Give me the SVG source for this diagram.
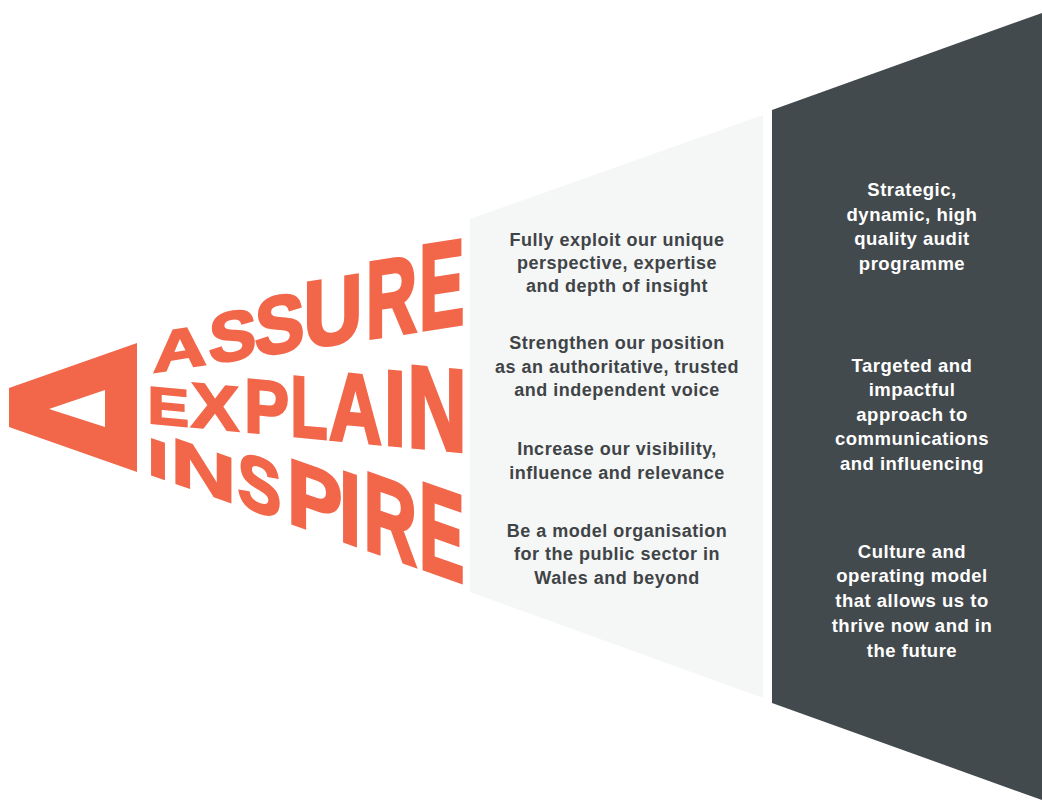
<svg xmlns="http://www.w3.org/2000/svg" width="1042" height="801" viewBox="0 0 1042 801">
<style>
.w{font-family:"Liberation Sans",Arial,sans-serif;font-weight:bold;font-size:100px;text-anchor:middle;fill:#f26649;stroke:#f26649;stroke-width:3.5px;stroke-linejoin:miter}
.m{font-family:"Liberation Sans",Arial,sans-serif;font-weight:bold;font-size:18px;letter-spacing:0.5px;text-anchor:middle;fill:#3f4447}
.r{font-family:"Liberation Sans",Arial,sans-serif;font-weight:bold;font-size:18.5px;letter-spacing:0.5px;text-anchor:middle;fill:#ffffff}
</style>
<rect width="1042" height="801" fill="#ffffff"/>
<g id="panel-light">
<polygon points="470,219 763,115 763,698 470,592" fill="#f5f6f6"/>
<text class="m" x="617" y="246">Fully exploit our unique</text>
<text class="m" x="617" y="269">perspective, expertise</text>
<text class="m" x="617" y="292">and depth of insight</text>
<text class="m" x="617" y="349">Strengthen our position</text>
<text class="m" x="617" y="372.5">as an authoritative, trusted</text>
<text class="m" x="617" y="396">and independent voice</text>
<text class="m" x="617" y="455">Increase our visibility,</text>
<text class="m" x="617" y="479">influence and relevance</text>
<text class="m" x="617" y="536.5">Be a model organisation</text>
<text class="m" x="617" y="560">for the public sector in</text>
<text class="m" x="617" y="584">Wales and beyond</text>
</g>
<g id="panel-dark">
<polygon points="772,110 1042,13 1042,800 772,703" fill="#434a4d"/>
<text class="r" x="912" y="196">Strategic,</text>
<text class="r" x="912" y="220.5">dynamic, high</text>
<text class="r" x="912" y="245">quality audit</text>
<text class="r" x="912" y="269.5">programme</text>
<text class="r" x="912" y="371.5">Targeted and</text>
<text class="r" x="912" y="396">impactful</text>
<text class="r" x="912" y="420.5">approach to</text>
<text class="r" x="912" y="445">communications</text>
<text class="r" x="912" y="469.5">and influencing</text>
<text class="r" x="912" y="557.5">Culture and</text>
<text class="r" x="912" y="582">operating model</text>
<text class="r" x="912" y="607">that allows us to</text>
<text class="r" x="912" y="631.5">thrive now and in</text>
<text class="r" x="912" y="656.5">the future</text>
</g>
<g id="delta">
<path d="M9,388 L137,343 L137,472 L9,427 Z M49,409 L105,427 L105,390 Z" fill="#f26649" fill-rule="evenodd"/>
</g>
<g id="word-assure">
<text class="w" transform="matrix(0.745 -0.1153 0 0.5663 180 368.41)">A</text>
<text class="w" transform="matrix(0.7137 -0.1104 0 0.696 232.5 359.98)">S</text>
<text class="w" transform="matrix(0.7458 -0.1152 0 0.8113 279.5 352.48)">S</text>
<text class="w" transform="matrix(0.8157 -0.1264 0 0.9439 333 343.95)">U</text>
<text class="w" x="-3" transform="matrix(0.7053 -0.109 0 1.0926 393.5 334.39)">R</text>
<text class="w" x="-1.3" transform="matrix(0.674 -0.1043 0 1.2132 442.5 326.58)">E</text>
</g>
<g id="word-explain">
<text class="w" x="-1.3" transform="matrix(0.6223 0.0585 0 0.522 169 424.69)">E</text>
<text class="w" transform="matrix(0.7125 0.067 0 0.6316 215 428.8)">X</text>
<text class="w" x="-1.4" transform="matrix(0.6702 0.063 0 0.757 267.5 433.48)">P</text>
<text class="w" x="-2.3" transform="matrix(0.6065 0.0571 0 0.859 310.5 437.4)">L</text>
<text class="w" transform="matrix(0.7319 0.0688 0 0.9667 355.5 441.41)">A</text>
<text class="w" transform="matrix(0.7739 0.0727 0 1.0607 395 444.94)">I</text>
<text class="w" transform="matrix(0.8172 0.0769 0 1.1608 437 448.77)">N</text>
</g>
<g id="word-inspire">
<text class="w" transform="matrix(0.7739 0.2709 0 0.5206 158 476.89)">I</text>
<text class="w" transform="matrix(0.8987 0.3146 0 0.6346 203.5 492.59)">N</text>
<text class="w" transform="matrix(0.6504 0.2275 0 0.7748 259.5 511.94)">S</text>
<text class="w" x="-1.4" transform="matrix(0.8249 0.2886 0 0.9162 316 531.5)">P</text>
<text class="w" transform="matrix(0.7739 0.2709 0 1.0011 350 543.25)">I</text>
<text class="w" x="-3" transform="matrix(0.7347 0.2569 0 1.1079 392.5 557.96)">R</text>
<text class="w" x="-1.3" transform="matrix(0.674 0.2359 0 1.2327 442.5 575.24)">E</text>
</g>
</svg>
